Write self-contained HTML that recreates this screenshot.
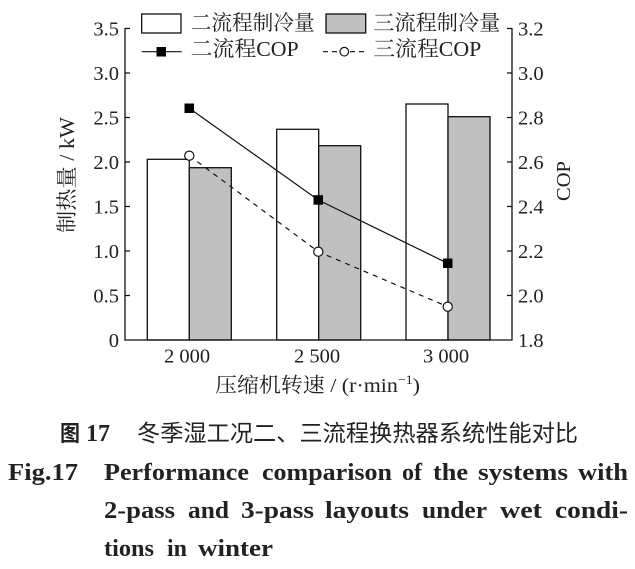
<!DOCTYPE html>
<html><head><meta charset="utf-8"><style>
html,body{margin:0;padding:0;background:#fff;}
svg{display:block;}
.t{font-family:"Liberation Serif","Noto Serif CJK SC",serif;fill:#222;}
.c{font-family:"Liberation Serif","Noto Sans CJK SC",sans-serif;fill:#222;}
.b{font-family:"Liberation Serif",serif;font-weight:bold;fill:#222;}
</style></head><body>
<svg width="635" height="569" viewBox="0 0 635 569" xmlns="http://www.w3.org/2000/svg">
<rect width="635" height="569" fill="#fff"/>
<!-- bars -->
<g stroke="#111" stroke-width="1.3">
<rect x="147.3" y="159.3" width="42" height="180.7" fill="#fff"/>
<rect x="189.3" y="167.7" width="42" height="172.3" fill="#c0c0c0"/>
<rect x="276.7" y="129.3" width="42" height="210.7" fill="#fff"/>
<rect x="318.7" y="145.7" width="42" height="194.3" fill="#c0c0c0"/>
<rect x="406" y="104" width="42" height="236" fill="#fff"/>
<rect x="448" y="116.7" width="42" height="223.3" fill="#c0c0c0"/>
</g>
<!-- axes -->
<g stroke="#111" stroke-width="1.3" fill="none">
<path d="M125 28 V340 H512 V28"/>
<path d="M125 28.5h5M125 73h5M125 117.5h5M125 162h5M125 206.5h5M125 251h5M125 295.5h5"/>
<path d="M512 28.5h-5M512 73h-5M512 117.5h-5M512 162h-5M512 206.5h-5M512 251h-5M512 295.5h-5"/>
</g>
<!-- left tick labels -->
<g class="t" font-size="20.5" text-anchor="end">
<text x="119" y="35.5">3.5</text>
<text x="119" y="80">3.0</text>
<text x="119" y="124.5">2.5</text>
<text x="119" y="169">2.0</text>
<text x="119" y="213.5">1.5</text>
<text x="119" y="258">1.0</text>
<text x="119" y="302.5">0.5</text>
<text x="119" y="347">0</text>
</g>
<!-- right tick labels -->
<g class="t" font-size="20.5">
<text x="518" y="35.5">3.2</text>
<text x="518" y="80">3.0</text>
<text x="518" y="124.5">2.8</text>
<text x="518" y="169">2.6</text>
<text x="518" y="213.5">2.4</text>
<text x="518" y="258">2.2</text>
<text x="518" y="302.5">2.0</text>
<text x="518" y="347">1.8</text>
</g>
<!-- x tick labels -->
<g class="t" font-size="20.5" text-anchor="middle">
<text x="187" y="362.5">2 000</text>
<text x="317" y="362.5">2 500</text>
<text x="446" y="362.5">3 000</text>
</g>
<!-- axis titles -->
<text class="t" font-size="20.5" x="215" y="392" textLength="205" lengthAdjust="spacingAndGlyphs">压缩机转速 / (r·min<tspan font-size="13" dy="-8">−1</tspan><tspan dy="8">)</tspan></text>
<text class="t" font-size="21" text-anchor="middle" transform="translate(74,175) rotate(-90)" textLength="116" lengthAdjust="spacingAndGlyphs">制热量 / kW</text>
<text class="t" font-size="20.5" text-anchor="middle" transform="translate(570,181) rotate(-90)">COP</text>
<!-- COP lines -->
<polyline points="189.3,108.3 318.3,200 447.7,263.3" fill="none" stroke="#111" stroke-width="1.2"/>
<polyline points="189.3,155.7 318.3,251.7 447.7,306.7" fill="none" stroke="#111" stroke-width="1.2" stroke-dasharray="5,5"/>
<g fill="#000">
<rect x="184.5" y="103.5" width="9.5" height="9.5"/>
<rect x="313.5" y="195.2" width="9.5" height="9.5"/>
<rect x="443" y="258.5" width="9.5" height="9.5"/>
</g>
<g fill="#fff" stroke="#111" stroke-width="1.2">
<circle cx="189.3" cy="155.7" r="4.6"/>
<circle cx="318.3" cy="251.7" r="4.6"/>
<circle cx="447.7" cy="306.7" r="4.6"/>
</g>
<!-- legend -->
<rect x="141.7" y="14" width="39.3" height="19" fill="#fff" stroke="#111" stroke-width="1.3"/>
<rect x="326" y="14" width="39.7" height="19" fill="#c0c0c0" stroke="#111" stroke-width="1.3"/>
<line x1="141.7" y1="51.7" x2="181.7" y2="51.7" stroke="#111" stroke-width="1.2"/>
<rect x="156.5" y="47" width="9.5" height="9.5" fill="#000"/>
<line x1="323" y1="51.7" x2="366" y2="51.7" stroke="#111" stroke-width="1.2" stroke-dasharray="5,4"/>
<circle cx="344.3" cy="51.7" r="4.3" fill="#fff" stroke="#111" stroke-width="1.2"/>
<g class="t" font-size="21">
<text x="190.7" y="30" textLength="124" lengthAdjust="spacingAndGlyphs">二流程制冷量</text>
<text x="190.7" y="56" textLength="108" lengthAdjust="spacingAndGlyphs">二流程COP</text>
<text x="373.3" y="30" textLength="127" lengthAdjust="spacingAndGlyphs">三流程制冷量</text>
<text x="373.3" y="56" textLength="108" lengthAdjust="spacingAndGlyphs">三流程COP</text>
</g>
<!-- caption -->
<text class="c" font-size="22" x="60" y="441" font-weight="bold" textLength="20" lengthAdjust="spacingAndGlyphs">图</text>
<text class="b" font-size="24" x="86" y="441" textLength="24" lengthAdjust="spacingAndGlyphs">17</text>
<text class="c" font-size="23" x="137" y="441" textLength="441" lengthAdjust="spacingAndGlyphs">冬季湿工况二、三流程换热器系统性能对比</text>
<g class="b" font-size="24">
<text x="8" y="480" textLength="70" lengthAdjust="spacingAndGlyphs">Fig.17</text>
<text x="104" y="480" textLength="145" lengthAdjust="spacingAndGlyphs">Performance</text>
<text x="262" y="480" textLength="130" lengthAdjust="spacingAndGlyphs">comparison</text>
<text x="402" y="480" textLength="20" lengthAdjust="spacingAndGlyphs">of</text>
<text x="433" y="480" textLength="35" lengthAdjust="spacingAndGlyphs">the</text>
<text x="478" y="480" textLength="90" lengthAdjust="spacingAndGlyphs">systems</text>
<text x="578" y="480" textLength="50" lengthAdjust="spacingAndGlyphs">with</text>
<text x="104" y="518" textLength="71" lengthAdjust="spacingAndGlyphs">2-pass</text>
<text x="188" y="518" textLength="41" lengthAdjust="spacingAndGlyphs">and</text>
<text x="241" y="518" textLength="73" lengthAdjust="spacingAndGlyphs">3-pass</text>
<text x="325" y="518" textLength="84" lengthAdjust="spacingAndGlyphs">layouts</text>
<text x="422" y="518" textLength="65" lengthAdjust="spacingAndGlyphs">under</text>
<text x="500" y="518" textLength="42" lengthAdjust="spacingAndGlyphs">wet</text>
<text x="555" y="518" textLength="73" lengthAdjust="spacingAndGlyphs">condi-</text>
<text x="104" y="556" textLength="50" lengthAdjust="spacingAndGlyphs">tions</text>
<text x="167" y="556">in</text>
<text x="198" y="556" textLength="75" lengthAdjust="spacingAndGlyphs">winter</text>
</g>
</svg>
</body></html>
